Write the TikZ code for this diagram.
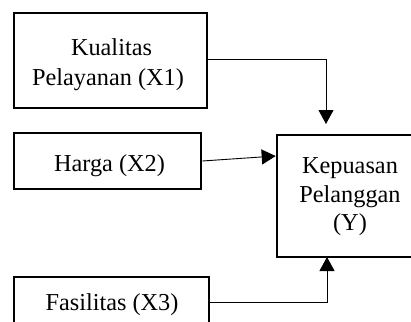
\documentclass[tikz,border=0pt]{standalone}
\usepackage{fontspec}
\setmainfont{Liberation Serif}
\usetikzlibrary{arrows.meta}
\begin{document}
\begin{tikzpicture}[x=1pt,y=-1pt,
  box/.style={draw,line width=2.6pt,minimum width=#1,inner sep=0pt},
  txt/.style={anchor=base,inner sep=0pt,font=\fontsize{24.3}{29}\selectfont},
  arr/.style={line width=0.9pt,-{Triangle[width=15pt,length=14pt]}}]
\useasboundingbox (0,0) rectangle (411,321);
\clip (0,0) rectangle (411,321);
\fill[white] (0,0) rectangle (411,321);
\node[box=193pt,minimum height=95pt] (x1) at (110.5,60.5) {};
\node[box=187pt,minimum height=56pt] (x2) at (107.5,161) {};
\node[box=146pt,minimum height=122pt] (y) at (350,196) {};
\node[box=195pt,minimum height=56pt] (x3) at (111.5,305) {};
\node[txt] (t1a) at (111.5,55.7) {Kualitas};
\node[txt] (t1b) at (108,85) {Pelayanan (X1)};
\node[txt] (t2) at (109.5,171.7) {Harga (X2)};
\node[txt] (tya) at (350,173) {Kepuasan};
\node[txt] (tyb) at (350,202) {Pelanggan};
\node[txt] (tyc) at (350,230) {(Y)};
\node[txt] (t3) at (112,310) {Fasilitas (X3)};
\coordinate (e1) at (326,124);
\coordinate (e3) at (327,257);
\draw[arr] ([yshift=1.5pt]x1.east) -| (e1);
\draw[arr] (x2.east) -- (y.west |- 0,156);
\draw[arr] (x3.east |- 0,302) -| (e3);
\end{tikzpicture}
\end{document}
